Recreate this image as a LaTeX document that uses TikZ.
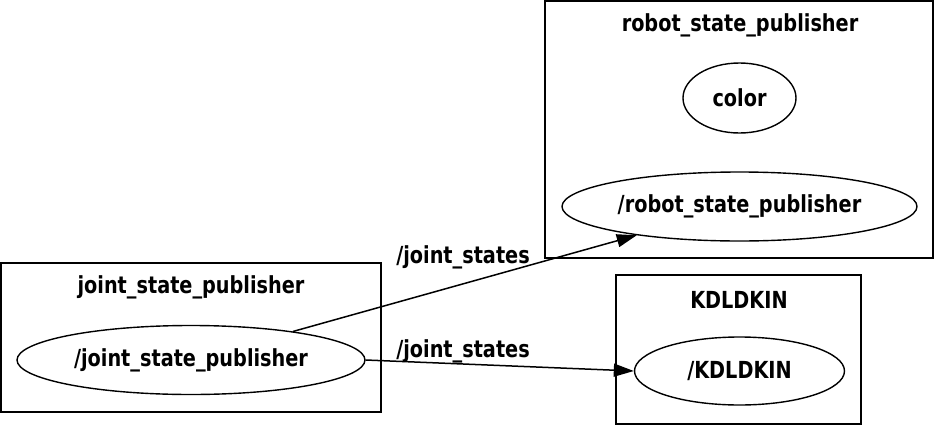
\documentclass[tikz,border=0pt]{standalone}
\usepackage{fontspec}
\setmainfont{DejaVu Sans}[FakeStretch=0.82]
\usetikzlibrary{shapes.geometric,arrows.meta}

\begin{document}
\begin{tikzpicture}[x=1pt,y=-1pt,
    every node/.style={font=\bfseries\fontsize{23.5}{27}\selectfont},
    clusterbox/.style={draw=black,line width=1.8pt},
    rosnode/.style={draw=black,ellipse,line width=1.4pt,inner sep=0pt},
    topicedge/.style={line width=1.5pt,-{Triangle[length=20pt,width=13pt]}}]
        \useasboundingbox (0,0) rectangle (935,426);

        % clusters
        \draw [clusterbox] (1, 263) rectangle (381, 412);
        \node (jsptitle) at (191, 287.5) {joint\_state\_publisher};
        \draw [clusterbox] (545, 1) rectangle (933, 258);
        \node (rsptitle) at (740, 25.5) {robot\_state\_publisher};
        \draw [clusterbox] (616, 275) rectangle (861, 424);
        \node (kdltitle) at (739, 299.5) {KDLDKIN};

        % ros nodes
        \node [rosnode, minimum width=348, minimum height=69] (jsp) at (191, 360) {/joint\_state\_publisher};
        \node [rosnode, minimum width=113, minimum height=70] (color) at (739.5, 98) {color};
        \node [rosnode, minimum width=355, minimum height=69] (rsp) at (739.5, 206.5) {/robot\_state\_publisher};
        \node [rosnode, minimum width=210, minimum height=68] (kdl) at (739.5, 371) {/KDLDKIN};

        % topics
        \draw [topicedge] (jsp) -- (rsp);
        \draw [topicedge] (jsp.east) -- (kdl.west);
        \node (toprsp) at (463, 257.5) {/joint\_states};
        \node (topkdl) at (463, 351.5) {/joint\_states};
    \end{tikzpicture}
\end{document}
